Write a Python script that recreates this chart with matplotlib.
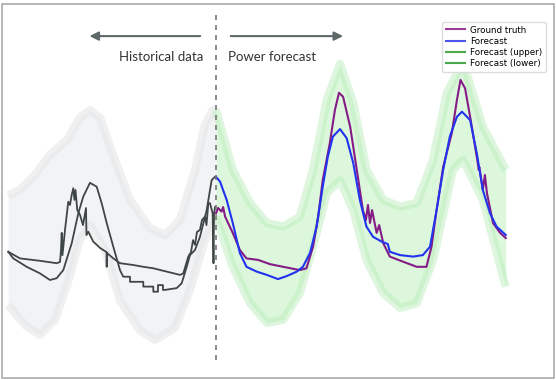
import matplotlib
matplotlib.use("Agg")
import matplotlib.pyplot as plt
from matplotlib.lines import Line2D
from matplotlib.patches import Rectangle
import numpy as np

# hours relative to forecast start, power in kW
hist_a_t = [-40.86, -39.88, -37.24, -34.62, -32.66, -31.34, -30.04, -28.39, -27.09, -26.11,
            -24.79, -23.47, -22.49, -21.50, -20.20, -18.89, -18.24, -16.92, -16.92, -16.27,
            -14.30, -14.30, -12.33, -12.33, -12.00, -11.41, -11.41, -11.02, -10.43, -10.43,
            -10.03, -7.73, -6.75, -5.76, -5.11, -4.13, -3.15, -1.83, -0.85, -0.20, 0.0]
hist_a_p = [39.4, 37.2, 34.4, 32.2, 30.0, 30.6, 33.3, 42.2, 52.2, 57.8,
            62.4, 61.1, 55.6, 49.0, 41.1, 33.3, 31.1, 31.1, 29.4, 29.4,
            29.4, 27.8, 27.8, 26.1, 26.1, 26.1, 28.3, 28.3, 28.3, 26.7,
            26.7, 27.3, 28.9, 34.4, 38.3, 40.0, 44.4, 53.3, 63.3, 64.4, 64.4]

hist_b_t = [-40.86, -38.56, -34.62, -31.34, -30.69, -30.49, -30.35, -30.20, -29.70, -29.06,
            -28.72, -28.39, -28.07, -27.84, -27.64, -27.29, -26.75, -26.16, -25.57, -25.48,
            -25.12, -24.14, -22.82, -21.54, -21.50, -21.44, -20.20, -18.89, -16.27, -14.30,
            -12.33, -9.70, -7.08, -6.43, -5.45, -4.92, -4.52, -4.13, -3.74, -3.15,
            -2.75, -2.16, -1.87, -1.51, -1.18, -0.65, -0.49, -0.39, -0.20]
hist_b_p = [39.4, 37.2, 36.4, 35.6, 36.0, 40.0, 45.7, 38.3, 46.7, 56.1,
            55.0, 58.3, 60.6, 56.7, 60.0, 53.3, 51.7, 48.3, 54.0, 45.0,
            46.1, 42.8, 40.7, 39.3, 34.4, 39.0, 37.2, 35.6, 35.0, 34.4,
            33.9, 32.8, 31.7, 32.2, 37.8, 39.3, 43.3, 41.7, 46.0, 46.7,
            50.0, 51.1, 48.3, 55.6, 55.6, 52.2, 35.6, 51.7, 54.3]

hist_up_t = [-40.9, -38.6, -35.6, -32.7, -29.3, -26.8, -24.8, -22.8, -19.9, -16.9,
             -13.0, -10.0, -7.1, -4.1, -2.2, -0.6, 0.0]
hist_up_p = [58.3, 60.0, 65.0, 71.7, 76.7, 84.0, 86.7, 84.0, 70.0, 56.7,
             47.3, 45.0, 50.0, 66.7, 81.7, 86.7, 86.0]
hist_lo_t = [-40.9, -37.6, -34.6, -31.7, -29.3, -26.8, -24.8, -21.8, -18.9, -15.0,
             -12.0, -8.1, -5.1, -2.2, 0.0]
hist_lo_p = [21.7, 15.0, 11.7, 16.7, 28.3, 43.3, 48.3, 40.0, 23.3, 13.3,
             10.0, 14.0, 26.7, 43.3, 50.0]

truth_t = [0.0, 0.4, 1.1, 1.4, 1.8, 3.3, 4.7, 6.0, 8.3, 10.6,
           13.2, 16.5, 17.8, 19.1, 20.1, 21.0, 22.4, 23.4, 24.2, 25.0,
           26.4, 27.7, 28.9, 29.5, 29.9, 30.3, 30.7, 31.6, 32.1, 32.9,
           34.2, 36.8, 39.5, 41.4, 42.4, 43.4, 44.7, 46.4, 47.4, 48.1,
           49.0, 50.0, 51.3, 51.7, 51.8, 52.5, 52.9, 53.3, 54.5, 55.9, 57.0]
truth_p = [52.2, 54.0, 52.8, 54.3, 51.1, 45.7, 40.0, 37.2, 36.7, 35.3,
           34.4, 33.3, 33.9, 41.1, 51.1, 63.3, 75.7, 86.7, 92.4, 91.1,
           81.1, 66.7, 53.3, 50.0, 55.0, 49.0, 53.3, 45.7, 48.3, 42.3,
           37.8, 36.1, 34.4, 34.4, 41.1, 53.3, 67.8, 79.0, 90.0, 96.7,
           93.9, 84.4, 71.1, 66.7, 67.7, 60.0, 65.0, 59.0, 49.0, 45.7, 44.0]

fc_t = [0.0, 0.8, 2.1, 3.3, 4.7, 6.0, 8.0, 10.0, 12.2, 13.9,
        15.9, 17.1, 18.5, 19.8, 21.0, 22.0, 23.0, 24.4, 25.7, 27.0,
        28.3, 29.6, 30.9, 32.6, 33.8, 34.2, 36.2, 38.8, 40.7, 42.1,
        43.4, 44.7, 46.0, 47.4, 48.4, 50.0, 51.3, 52.5, 53.9, 55.2, 57.0]
fc_p = [64.4, 62.8, 56.7, 49.0, 39.0, 34.4, 32.8, 31.7, 30.3, 31.3,
        32.8, 34.4, 39.0, 47.8, 61.1, 71.1, 77.8, 80.3, 77.3, 69.0,
        56.7, 47.8, 44.4, 42.8, 42.0, 39.4, 38.3, 37.8, 38.3, 41.1,
        53.3, 66.7, 77.8, 84.4, 86.1, 83.3, 72.3, 60.0, 52.3, 47.8, 45.0]

up_t = [0.0, 3.3, 6.7, 10.0, 13.2, 16.5, 19.1, 21.8, 24.4, 27.0,
        29.6, 32.9, 36.2, 39.5, 42.7, 45.4, 48.6, 52.5, 57.0]
up_p = [86.7, 66.7, 55.7, 49.0, 47.8, 51.1, 66.7, 90.0, 102.0, 89.0,
        66.7, 56.7, 54.4, 55.7, 70.0, 92.3, 102.7, 81.1, 66.7]
lo_t = [0.0, 3.3, 6.7, 10.0, 13.2, 16.5, 19.1, 21.8, 24.4, 27.0,
        29.6, 32.9, 36.2, 39.5, 42.7, 46.6, 48.6, 52.5, 57.0]
lo_p = [51.1, 34.4, 22.3, 15.7, 16.7, 25.7, 41.1, 59.0, 63.3, 53.3,
        36.7, 25.7, 20.7, 22.3, 36.7, 66.7, 70.0, 56.7, 27.8]

fig = plt.figure(figsize=(5.56, 3.80), dpi=100)
ax = fig.add_axes([0, 0, 1, 1])
ax.set_xlim(-42.49, 66.89)
ax.set_ylim(-3.33, 123.33)
ax.axis("off")

# historical spread (grey)
ht = np.linspace(-40.9, 0, 300)
hu = np.interp(ht, hist_up_t, hist_up_p)
hl = np.interp(ht, hist_lo_t, hist_lo_p)
ax.fill_between(ht, hl, hu, color="#f2f3f5", lw=0, zorder=1)
for edge in (hu, hl):
    ax.plot(ht, edge, color="#e4e5e7", lw=6, alpha=0.55, zorder=1.5, solid_capstyle="butt")

# forecast spread (green)
ft = np.linspace(0, 57.0, 300)
fu = np.interp(ft, up_t, up_p)
fl = np.interp(ft, lo_t, lo_p)
ax.fill_between(ft, fl, fu, color="#dcf7dc", lw=0, zorder=1)
for edge in (fu, fl):
    ax.plot(ft, edge, color="#bdeebd", lw=6, alpha=0.5, zorder=1.5, solid_capstyle="butt")

ax.plot(hist_a_t, hist_a_p, color="#3f4646", lw=1.3, zorder=3)
ax.plot(hist_b_t, hist_b_p, color="#3f4646", lw=1.3, zorder=3)
ax.plot(truth_t, truth_p, color="#851b86", lw=1.5, zorder=4)
ax.plot(fc_t, fc_p, color="#2233ee", lw=1.5, zorder=5)

ax.plot([0, 0], [3.3, 119.3], color="#777777", lw=1.2, ls=(0, (3, 3)), zorder=6)

arrow = dict(arrowstyle="-|>", color="#5e6868", lw=1.5, mutation_scale=13)
ax.annotate("", xy=(0.156, 0.905), xytext=(0.365, 0.905), xycoords="axes fraction",
            arrowprops=arrow)
ax.annotate("", xy=(0.622, 0.905), xytext=(0.41, 0.905), xycoords="axes fraction",
            arrowprops=arrow)
ax.text(0.366, 0.85, "Historical data", transform=ax.transAxes, ha="right", va="center",
        fontsize=9.5, family="Lato", color="#333333")
ax.text(0.41, 0.85, "Power forecast", transform=ax.transAxes, ha="left", va="center",
        fontsize=9.5, family="Lato", color="#333333")

handles = [Line2D([], [], color="#9b3c9b", lw=1.5),
           Line2D([], [], color="#4d55ee", lw=1.5),
           Line2D([], [], color="#4aab4a", lw=1.5),
           Line2D([], [], color="#4aab4a", lw=1.5)]
labels = ["Ground truth", "Forecast", "Forecast (upper)", "Forecast (lower)"]
fig.legend(handles, labels, loc="upper right", bbox_to_anchor=(0.982, 0.942),
           fontsize=6.3, frameon=True, borderaxespad=0, handlelength=2.2,
           handletextpad=0.6, labelspacing=0.25, borderpad=0.4, framealpha=1,
           edgecolor="#dddddd", fancybox=True)

fig.patches.append(Rectangle((2 / 556, 2 / 380), 552 / 556, 374 / 380,
                             transform=fig.transFigure, fill=False,
                             edgecolor="#aaaaaa", lw=1.2))

fig.savefig("out.png", dpi=100)
